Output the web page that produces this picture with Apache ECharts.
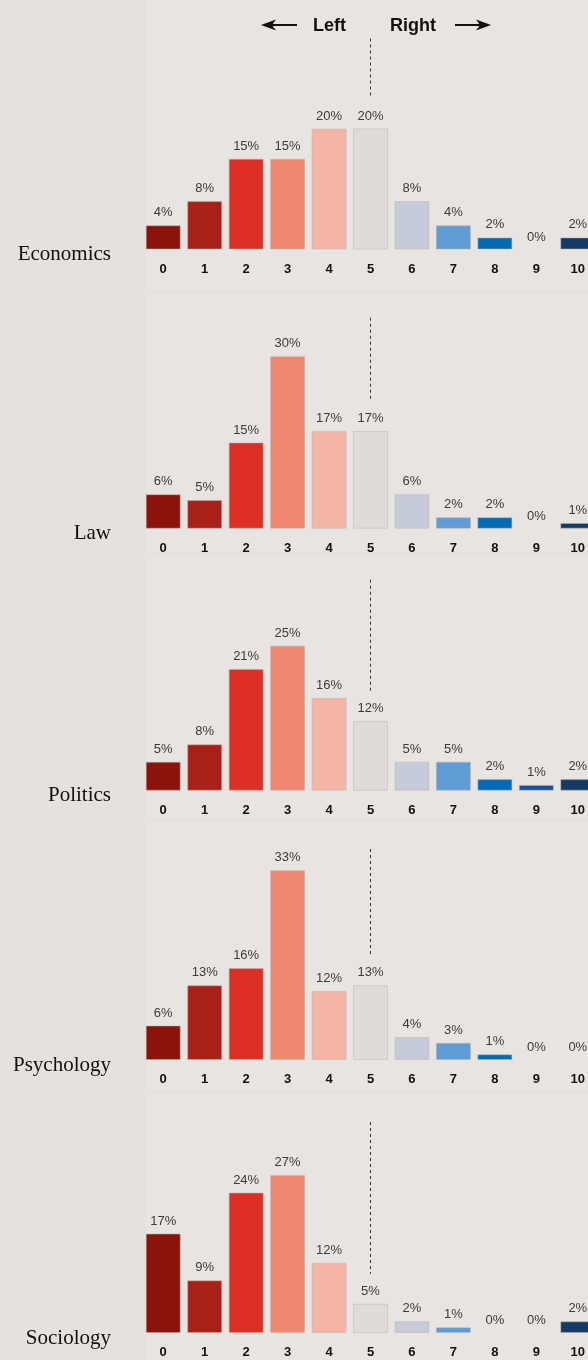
<!DOCTYPE html>
<html>
<head>
<meta charset="utf-8">
<script src="https://cdn.jsdelivr.net/npm/echarts@6/dist/echarts.min.js"></script>
<style>
  html, body { margin: 0; padding: 0; background: #e6e1de; }
  #chart { width: 588px; height: 1360px; }
</style>
</head>
<body>
<div id="chart"></div>
<script>
// chart data
const categories = ['0', '1', '2', '3', '4', '5', '6', '7', '8', '9', '10'];
const fields = ['Economics', 'Law', 'Politics', 'Psychology', 'Sociology'];
const economics = [4, 8, 15, 15, 20, 20, 8, 4, 2, 0, 2];
const law = [6, 5, 15, 30, 17, 17, 6, 2, 2, 0, 1];
const politics = [5, 8, 21, 25, 16, 12, 5, 5, 2, 1, 2];
const psychology = [6, 13, 16, 33, 12, 13, 4, 3, 1, 0, 0];
const sociology = [17, 9, 24, 27, 12, 5, 2, 1, 0, 0, 2];
const values = [economics, law, politics, psychology, sociology];

const barColors = ['#8a130b', '#a82118', '#dc3027', '#f08870', '#f4b5a6', '#e0dbd8',
  '#c5cbd9', '#5f9bd4', '#016bb6', '#17509c', '#143a66'];

// layout of each panel
const baselines = [249.5, 528.7, 790.7, 1060, 1333];
const pxPerPct = [6.05, 5.75, 5.8, 5.75, 5.85];
const lineH = 211;
const panelTops = [0, 293, 556, 822, 1094];

const chart = echarts.init(document.getElementById('chart'));

const grids = [], xAxes = [], yAxes = [], series = [], graphics = [];

fields.forEach((name, i) => {
  const base = baselines[i];
  const max = lineH / pxPerPct[i];
  grids.push({
    left: 142.5, right: -10.5, top: base - lineH, bottom: 1360 - base,
    outerBoundsMode: 'none', containLabel: false
  });
  xAxes.push({
    type: 'category', gridIndex: i, data: categories,
    axisLine: { show: false }, axisTick: { show: false },
    axisLabel: { fontFamily: 'Liberation Sans', fontWeight: 'bold', fontSize: 13, color: '#111', margin: 13 }
  });
  yAxes.push({ type: 'value', gridIndex: i, min: 0, max: max, show: false });
  const v = values[i];
  series.push({
    type: 'bar', xAxisIndex: i, yAxisIndex: i, barWidth: 35,
    data: v.map((d, j) => ({
      value: d,
      itemStyle: { color: barColors[j], borderWidth: d > 0 ? 1 : 0 }
    })),
    itemStyle: { borderColor: 'rgba(190,180,178,0.5)' },
    label: {
      show: true, position: 'top', distance: 6, formatter: '{c}%',
      fontFamily: 'Liberation Sans', fontSize: 13, color: '#3b3b3b'
    },
    markLine: {
      silent: true, symbol: ['none', 'none'], label: { show: false },
      lineStyle: { type: [3, 3], color: '#333', width: 1 },
      data: [[{ coord: [5, max] }, { coord: [5, v[5] + 30 / pxPerPct[i]] }]]
    }
  });
  graphics.push({
    type: 'rect', z: -10, silent: true,
    shape: { x: 146, y: panelTops[i], width: 442, height: (i < 4 ? panelTops[i + 1] - 3 : 1360) - panelTops[i] },
    style: { fill: '#e8e4e1' }
  });
  graphics.push({
    type: 'text', x: 111, y: base + 5,
    style: { text: name, font: '21px "Liberation Serif"', fill: '#111', textAlign: 'right', textVerticalAlign: 'middle' }
  });
});

// header
graphics.push(
  { type: 'text', x: 313, y: 26, style: { text: 'Left', font: 'bold 18px "Liberation Sans"', fill: '#111', textVerticalAlign: 'middle' } },
  { type: 'text', x: 390, y: 26, style: { text: 'Right', font: 'bold 18px "Liberation Sans"', fill: '#111', textVerticalAlign: 'middle' } },
  { type: 'line', shape: { x1: 270, y1: 25, x2: 297, y2: 25 }, style: { stroke: '#111', lineWidth: 2 } },
  { type: 'polygon', shape: { points: [[261, 25], [276, 19.5], [272, 25], [276, 30.5]] }, style: { fill: '#111' } },
  { type: 'line', shape: { x1: 455, y1: 25, x2: 482, y2: 25 }, style: { stroke: '#111', lineWidth: 2 } },
  { type: 'polygon', shape: { points: [[491, 25], [476, 19.5], [480, 25], [476, 30.5]] }, style: { fill: '#111' } }
);

chart.setOption({
  backgroundColor: '#e6e1de',
  animation: false,
  grid: grids,
  xAxis: xAxes,
  yAxis: yAxes,
  series: series,
  graphic: graphics
});
</script>
</body>
</html>
